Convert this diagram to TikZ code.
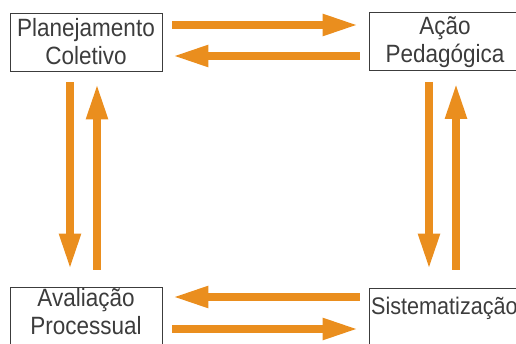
\documentclass[tikz,border=0pt]{standalone}
\usepackage{fontspec}
\setmainfont[FakeStretch=0.9]{Liberation Sans}
\usetikzlibrary{arrows.meta}
\definecolor{arrorange}{RGB}{234,142,30}
\definecolor{boxgray}{RGB}{60,60,60}
\tikzset{
  box/.style={draw=boxgray, line width=0.9pt, minimum width=152pt, inner sep=0pt},
  lbl/.style={text=boxgray, font=\fontsize{25}{28}\selectfont, align=center, inner sep=0pt},
  flow/.style={draw=arrorange, line width=8pt, -{Triangle[width=20pt,length=36pt]}}
}
\begin{document}
\begin{tikzpicture}[x=1pt,y=1pt]
\useasboundingbox (0,0) rectangle (516,343);
\clip (0,0) rectangle (516,343);
% boxes
\node[box, minimum height=58pt] (pc) at (86,301) {};
\node[box, minimum height=58pt] (ap) at (445,301.5) {};
\node[box, minimum height=62pt] (av) at (86,25) {};
\node[box, minimum height=62pt] (si) at (445,24) {};
% texts
\node[lbl] (tpc) at (86,301) {Planejamento\\Coletivo};
\node[lbl] (tap) at (445,301) {Ação\\Pedagógica};
\node[lbl] (tav) at (86,31) {Avaliação\\Processual};
\node[lbl, font=\fontsize{24}{28}\selectfont, anchor=west] (tsi) at (371,35) {Sistematização};
% horizontal arrows (top)
\draw[flow] ([xshift=10pt,yshift=17pt]pc.east) -- ([xshift=-10pt,yshift=16.5pt]ap.west);
\draw[flow] ([xshift=-9pt,yshift=-14.5pt]ap.west) -- ([xshift=10pt,yshift=-14pt]pc.east);
% horizontal arrows (bottom)
\draw[flow] ([xshift=-9pt,yshift=22pt]si.west) -- ([xshift=10pt,yshift=21pt]av.east);
\draw[flow] ([xshift=10pt,yshift=-11pt]av.east) -- ([xshift=-10pt,yshift=-10pt]si.west);
% vertical arrows (left)
\draw[flow] ([xshift=-16pt,yshift=-11pt]pc.south) -- ([xshift=-16pt,yshift=17pt]av.north);
\draw[flow] ([xshift=11pt,yshift=17pt]av.north) -- ([xshift=11pt,yshift=-12pt]pc.south);
% vertical arrows (right)
\draw[flow] ([xshift=-16pt,yshift=-11pt]ap.south) -- ([xshift=-16pt,yshift=18pt]si.north);
\draw[flow] ([xshift=11pt,yshift=18pt]si.north) -- ([xshift=11pt,yshift=-12pt]ap.south);
\end{tikzpicture}
\end{document}
